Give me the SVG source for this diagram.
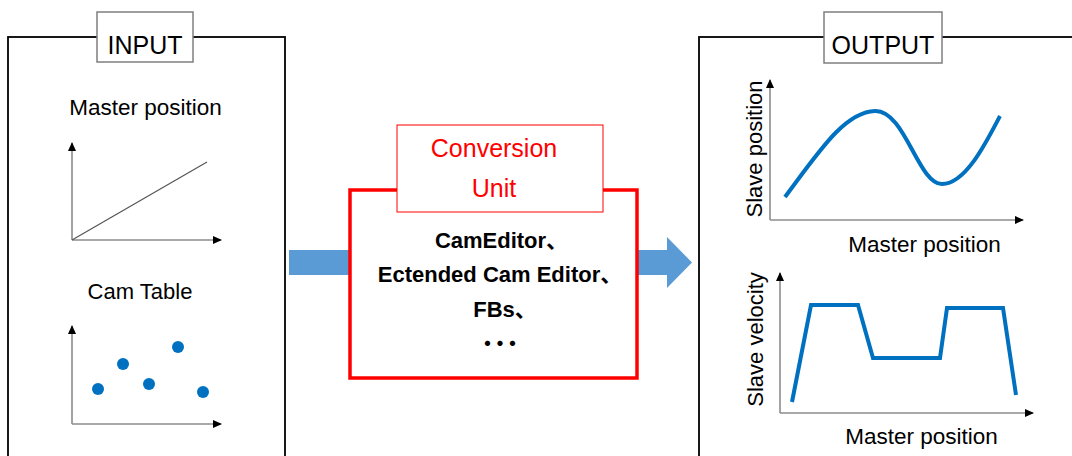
<svg xmlns="http://www.w3.org/2000/svg" width="1072" height="456" viewBox="0 0 1072 456">
<style>
.t{font-family:"Liberation Sans","Noto Sans CJK JP",sans-serif;fill:#000}
.frame{fill:#fff;stroke:#000;stroke-width:1.8}
.tag{fill:#fff;stroke:#7f7f7f;stroke-width:1.5}
.axis{stroke:#8c8c8c;stroke-width:1.6;fill:none;marker-end:url(#ah)}
.blue{fill:none;stroke:#0070C0;stroke-width:4;stroke-linejoin:miter}
.dot{fill:#0070C0}
.bold{font-weight:bold;font-size:22px;text-anchor:middle}
.red{fill:#ff0000}
</style>
<defs>
<marker id="ah" markerUnits="userSpaceOnUse" markerWidth="9" markerHeight="8" refX="8" refY="4" orient="auto">
<path d="M0,0 L9,4 L0,8 z" fill="#000"/>
</marker>
</defs>
<rect width="1072" height="456" fill="#fff"/>
<g id="connectors">
<rect x="289" y="250" width="62" height="25" fill="#5B9BD5"/>
<polygon points="637,250 667,250 667,237 692,262.5 667,288 667,275 637,275" fill="#5B9BD5"/>
</g>
<g id="input">
<rect class="frame" x="8" y="37" width="277" height="440"/>
<rect class="tag" x="97" y="12" width="96" height="50"/>
<text class="t" x="145" y="54" font-size="25" text-anchor="middle">INPUT</text>
<text class="t" x="145.5" y="115" font-size="22.5" text-anchor="middle">Master position</text>
<line class="axis" x1="72" y1="240" x2="72" y2="143"/>
<line class="axis" x1="72" y1="240" x2="221" y2="240"/>
<line x1="72" y1="240" x2="207" y2="162" stroke="#555" stroke-width="1.2"/>
<text class="t" x="140" y="299" font-size="22" text-anchor="middle">Cam Table</text>
<line class="axis" x1="72" y1="424" x2="72" y2="326"/>
<line class="axis" x1="72" y1="424" x2="221" y2="424"/>
<circle class="dot" cx="98" cy="389" r="6"/>
<circle class="dot" cx="123" cy="364" r="6"/>
<circle class="dot" cx="149" cy="384" r="6"/>
<circle class="dot" cx="178" cy="347" r="6"/>
<circle class="dot" cx="203" cy="392" r="6"/>
</g>
<g id="conversion">
<rect x="350" y="190" width="287" height="188" fill="#fff" stroke="#ff0000" stroke-width="3.5"/>
<rect x="397" y="125" width="206" height="87" fill="#fff" stroke="#ff0000" stroke-width="1"/>
<text class="t red" x="494" y="157" font-size="25" text-anchor="middle" style="fill:#ff0000">Conversion</text>
<text class="t red" x="494" y="197" font-size="25" text-anchor="middle" style="fill:#ff0000">Unit</text>
<text class="t bold" x="501.5" y="248">CamEditor、</text>
<text class="t bold" x="500" y="282">Ectended Cam Editor、</text>
<text class="t bold" x="505" y="317">FBs、</text>
<text class="t" x="477" y="351" font-size="21" font-weight="bold" letter-spacing="-8.5">・・・</text>
</g>
<g id="output">
<rect class="frame" x="699" y="37" width="400" height="440"/>
<rect class="tag" x="824" y="12" width="118" height="51"/>
<text class="t" x="883" y="54" font-size="25" text-anchor="middle">OUTPUT</text>
<line class="axis" x1="770" y1="220" x2="770" y2="80"/>
<line class="axis" x1="770" y1="220" x2="1023" y2="220"/>
<path class="blue" d="M785,197 C820,150 845,112 875,111 C905,110 918,184 942,184 C965,184 985,145 1000,116"/>
<text class="t" transform="translate(762,149) rotate(-90)" font-size="22" text-anchor="middle">Slave position</text>
<text class="t" x="924.5" y="252" font-size="22.5" text-anchor="middle">Master position</text>
<line class="axis" x1="780" y1="413" x2="780" y2="273"/>
<line class="axis" x1="780" y1="413" x2="1033" y2="413"/>
<polyline class="blue" points="792,402 811,305 858,305 873,358 940,358 947,308 1003,308 1016,395"/>
<text class="t" transform="translate(763,339.5) rotate(-90)" font-size="22" text-anchor="middle">Slave velocity</text>
<text class="t" x="921.5" y="444" font-size="22.5" text-anchor="middle">Master position</text>
</g>
</svg>
